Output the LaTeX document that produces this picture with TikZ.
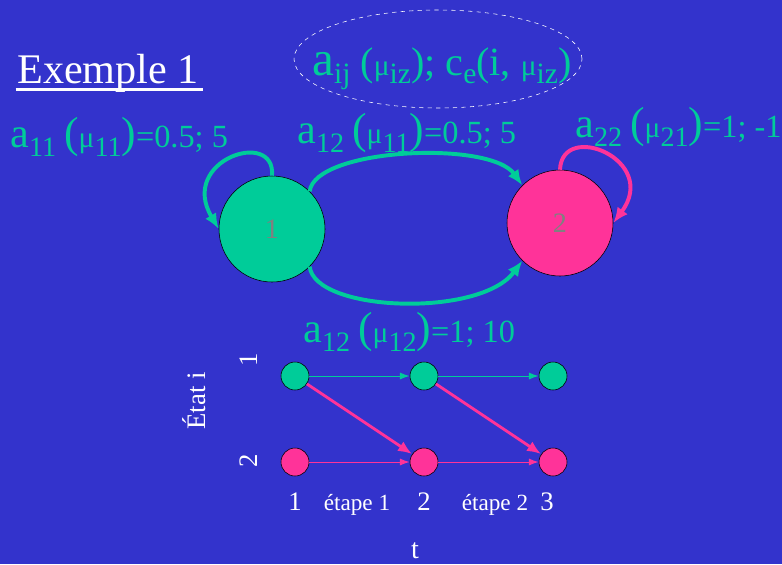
\documentclass[tikz,border=0pt]{standalone}
\usepackage{fontspec}
\setmainfont{Liberation Serif}
\usetikzlibrary{arrows.meta,positioning,shapes.geometric}
\definecolor{slidebg}{HTML}{3333CC}
\definecolor{stgreen}{HTML}{00CC99}
\definecolor{stpink}{HTML}{FF3399}
\definecolor{stgray}{HTML}{808080}

% pieces of the coefficient labels
\newcommand{\coefa}{{\fontsize{30}{30}\selectfont a}}
\newcommand{\opar}{{\fontsize{31}{31}\selectfont (}}
\newcommand{\cpar}{{\fontsize{31}{31}\selectfont )}}
\newcommand{\mmu}{{\fontsize{21}{21}\selectfont μ}}
\newcommand{\lsub}[1]{\raisebox{-7pt}{\fontsize{20}{20}\selectfont #1}}
% bigger pieces for the legend
\newcommand{\lega}{{\fontsize{35}{35}\selectfont a}}
\newcommand{\legmu}{{\fontsize{21}{21}\selectfont μ}}
\newcommand{\legsub}[1]{\raisebox{-6pt}{\fontsize{21}{21}\selectfont #1}}

\begin{document}
\begin{tikzpicture}[x=0.25mm, y=-0.25mm,
    every node/.style={inner sep=0pt},
    coef/.style={text=stgreen, font=\fontsize{23}{23}\selectfont, anchor=base west},
    bigstate/.style={draw=black, thin, circle, minimum size=26.5mm, text=stgray, font=\fontsize{20}{20}\selectfont},
    smallstate/.style={draw=black, thin, circle, minimum size=7mm},
    bigarrow/.style={-{Latex[length=11pt,width=9pt]}, line width=2.8pt},
    thinarrow/.style={-{Latex[length=7pt,width=5pt]}, line width=0.7pt},
    jumparrow/.style={-{Latex[length=10pt,width=8pt]}, line width=2pt, stpink},
    axislabel/.style={text=white, font=\fontsize{19}{19}\selectfont}]
  \useasboundingbox[fill=slidebg] (0,0) rectangle (782,564);

  % title and cost legend
  \node[text=white, font=\fontsize{30}{30}\selectfont, anchor=base west] (title) at (17,83) {Exemple 1};
  \draw[white, line width=2.4pt] ([xshift=-1pt, yshift=-4.5pt]title.base west) -- ([xshift=3pt, yshift=-4.5pt]title.base east);
  \node[draw=white, dashed, ellipse, minimum width=72mm, minimum height=24.5mm] (legend) at (438,59) {};
  \node[text=stgreen, font=\fontsize{28.5}{28.5}\selectfont, anchor=base west] (legtext) at (312,75)
    {\lega\legsub{ij} (\legmu\legsub{iz}); c\legsub{e}(i, \legmu\legsub{iz})};

  % transition graph
  \node[bigstate, fill=stgreen] (s1) at (272,229) {1};
  \node[bigstate, fill=stpink] (s2) at (560,223) {2};

  \draw[bigarrow, stgreen] (s1.north) .. controls (276,128) and (178,160) .. (s1.west);
  \draw[bigarrow, stpink] (s2.north) .. controls (562,120) and (660,160) .. (s2.east);
  \draw[bigarrow, stgreen] (s1.45) .. controls (315,148) and (490,140) .. (s2.135);
  \draw[bigarrow, stgreen] (s1.-45) .. controls (315,312) and (480,318) .. (s2.-135);

  \node[coef] (a11) at (10,147) {\coefa\lsub{11} \opar\mmu\lsub{11}\cpar=0.5; 5};
  \node[coef] (a12up) at (297,143) {\coefa\lsub{12} \opar\mmu\lsub{11}\cpar=0.5; 5};
  \node[coef] (a22) at (575,137) {\coefa\lsub{22} \opar\mmu\lsub{21}\cpar=1; -1};
  \node[coef] (a12low) at (303,342) {\coefa\lsub{12} \opar\mmu\lsub{12}\cpar=1; 10};

  % time unrolled graph
  \node[smallstate, fill=stgreen] (u1) at (295,376) {};
  \node[smallstate, fill=stgreen] (u2) at (424,376) {};
  \node[smallstate, fill=stgreen] (u3) at (553,376) {};
  \node[smallstate, fill=stpink] (d1) at (295,462) {};
  \node[smallstate, fill=stpink] (d2) at (424,462) {};
  \node[smallstate, fill=stpink] (d3) at (553,462) {};

  \draw[thinarrow, stgreen] (u1) -- (u2);
  \draw[thinarrow, stgreen] (u2) -- (u3);
  \draw[thinarrow, stpink] (d1) -- (d2);
  \draw[thinarrow, stpink] (d2) -- (d3);
  \draw[jumparrow] (u1) -- (d2);
  \draw[jumparrow] (u2) -- (d3);

  \node[axislabel, rotate=90, anchor=base] (row1) at (257,360) {1};
  \node[axislabel, rotate=90, anchor=base] (row2) at (257,461) {2};
  \node[axislabel, rotate=90, anchor=base] (rows) at (205,401) {État i};

  \node[axislabel, anchor=base] (t1) at (295,510) {1};
  \node[axislabel, anchor=base, font=\fontsize{16.5}{16.5}\selectfont] (step1) at (357,510) {étape 1};
  \node[axislabel, anchor=base] (t2) at (424,510) {2};
  \node[axislabel, anchor=base, font=\fontsize{16.5}{16.5}\selectfont] (step2) at (495,510) {étape 2};
  \node[axislabel, anchor=base] (t3) at (547,510) {3};
  \node[axislabel, anchor=base, font=\fontsize{20}{20}\selectfont] (taxis) at (415,558) {t};
\end{tikzpicture}
\end{document}
